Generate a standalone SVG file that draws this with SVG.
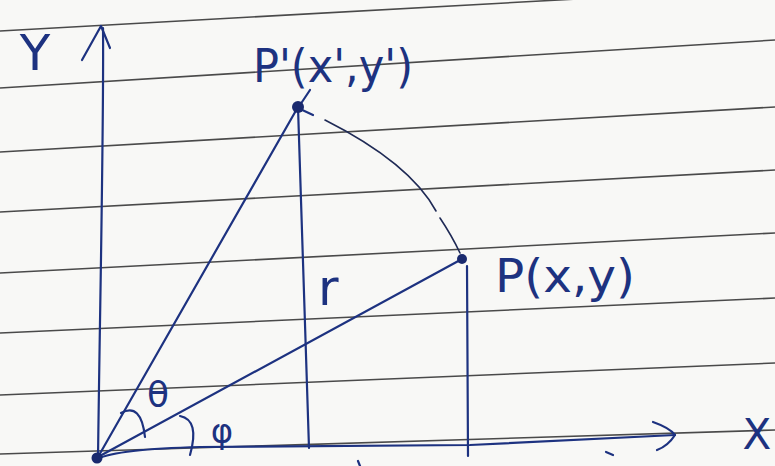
<svg xmlns="http://www.w3.org/2000/svg" width="775" height="466" viewBox="0 0 775 466">
  <style>
    .rule { stroke: #4a4a4a; stroke-width: 1.6; fill: none; }
    .ink { stroke: #1d3280; stroke-width: 2.2; fill: none; stroke-linecap: round; stroke-linejoin: round; }
    .thin { stroke: #1f2a55; stroke-width: 1.6; fill: none; stroke-linecap: round; }
    .dot { fill: #1a2a6e; }
    .lbl { fill: #1d3280; font-family: "DejaVu Sans", "Liberation Sans", sans-serif; }
  </style>
  <rect x="0" y="0" width="775" height="466" fill="#f8f8f6"/>

  <g id="paper-lines">
    <path class="rule" d="M0,31 L775,-12"/>
    <path class="rule" d="M0,88 L775,40"/>
    <path class="rule" d="M0,152 L775,107"/>
    <path class="rule" d="M0,212 L775,170"/>
    <path class="rule" d="M0,273 L775,233"/>
    <path class="rule" d="M0,333 L775,298"/>
    <path class="rule" d="M0,395 L775,363"/>
    <path class="rule" d="M0,454 L775,430"/>
  </g>

  <g id="axes">
    <path class="ink" d="M98,458 C100,300 104,120 103,28"/>
    <path class="ink" d="M82,60 L101,26 L110,48"/>
    <path class="ink" stroke-width="2.8" d="M97,459 Q118,449 200,447 L470,445 L675,435"/>
    <path class="ink" stroke-width="2.4" d="M653,422 Q670,428 675,435 Q668,446 657,450"/>
  </g>

  <g id="connectors">
    <path class="ink" stroke-width="1.8" d="M98,457 L298,107"/>
    <path class="ink" stroke-width="1.8" d="M98,457 L462,259"/>
    <path class="ink" stroke-width="2" d="M298,107 L309,448"/>
    <path class="ink" stroke-width="2" d="M467,266 L468,456"/>
    <path class="thin" d="M325,120 Q410,163 436,211"/>
    <path class="thin" d="M440,218 Q452,236 460,253"/>
    <path class="ink" stroke-width="1.8" d="M298,108 L310,90 M298,108 L313,115"/>
    <path class="ink" stroke-width="2" d="M121,413 Q141,402 145,437"/>
    <path class="ink" stroke-width="2" d="M180,416 Q200,420 190,455"/>
  </g>

  <g id="node-origin"><circle class="dot" cx="97" cy="458" r="5.5"/></g>
  <g id="node-p-prime"><circle class="dot" cx="298" cy="107" r="6"/></g>
  <g id="node-p"><circle class="dot" cx="462" cy="259" r="5"/></g>

  <g id="labels">
    <text class="lbl" x="35" y="70" font-size="50" text-anchor="middle">Y</text>
    <text class="lbl" x="757" y="449" font-size="42" text-anchor="middle">X</text>
    <text class="lbl" x="253" y="82" font-size="46" textLength="160" lengthAdjust="spacingAndGlyphs">P'(x',y')</text>
    <text class="lbl" x="495" y="292" font-size="46" textLength="140" lengthAdjust="spacingAndGlyphs">P(x,y)</text>
    <text class="lbl" x="318" y="305" font-size="50">r</text>
    <text class="lbl" x="158" y="407" font-size="36" text-anchor="middle">θ</text>
    <text class="lbl" x="222" y="443" font-size="34" text-anchor="middle">φ</text>
  </g>

  <g id="marks">
    <path class="ink" stroke-width="2" d="M606,452 L613,455"/>
    <path class="ink" stroke-width="2" d="M358,461 L360,466"/>
  </g>
</svg>
